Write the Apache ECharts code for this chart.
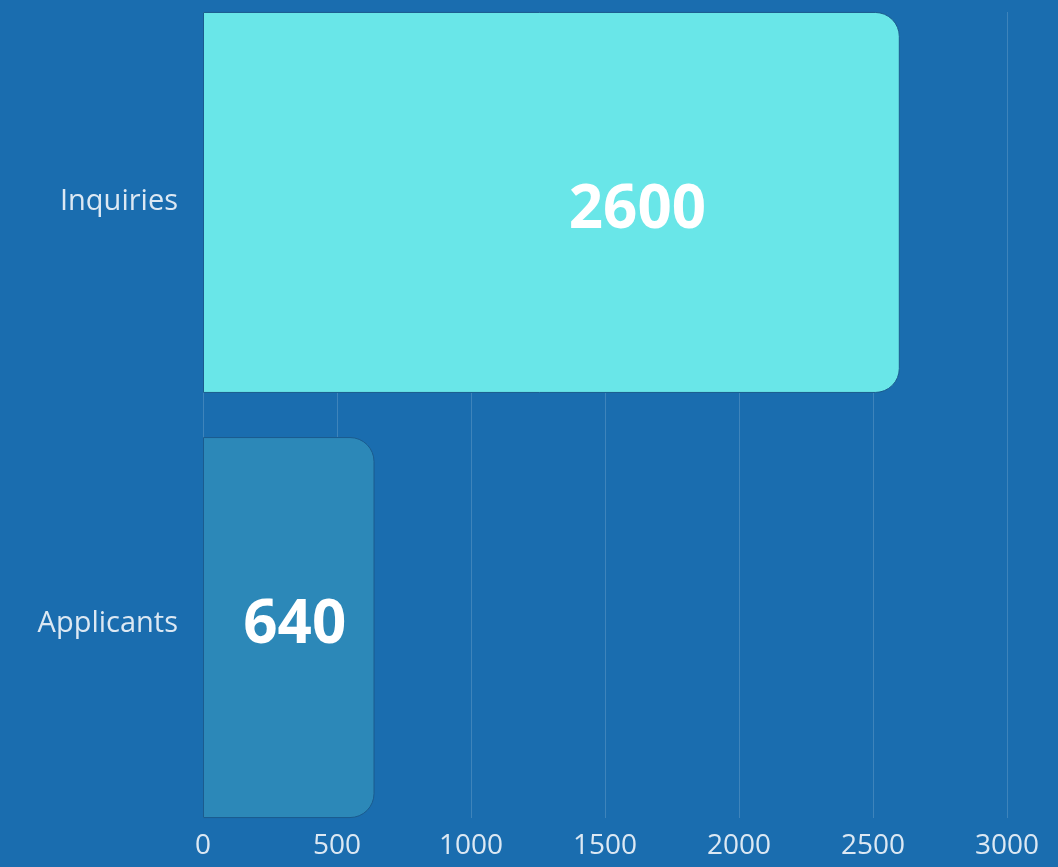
<!DOCTYPE html>
<html>
<head>
<meta charset="utf-8">
<script src="https://cdn.jsdelivr.net/npm/echarts@6/dist/echarts.min.js"></script>
<style>
  html, body { margin: 0; padding: 0; background: #1a6daf; }
  #chart { width: 1058px; height: 867px; }
</style>
</head>
<body>
<div id="chart"></div>
<script>
// categories bottom -> top
const categories = ['Applicants', 'Inquiries'];
const inquiries = ['-', 2600];
const applicants = [640, '-'];
const xTicks = [0, 500, 1000, 1500, 2000, 2500, 3000];

const font = '"Open Sans", "Noto Sans", sans-serif';
const labelColor = '#dce8f3';
const chart = echarts.init(document.getElementById('chart'));

const option = {
  backgroundColor: '#1a6daf',
  animation: false,
  grid: { left: 203, right: 51, top: 12, bottom: 49 },
  xAxis: {
    type: 'value',
    min: xTicks[0],
    max: xTicks[xTicks.length - 1],
    interval: 500,
    axisLine: { show: false },
    axisTick: { show: false },
    splitLine: { lineStyle: { color: 'rgba(255,255,255,0.16)', width: 1 } },
    axisLabel: {
      color: labelColor, fontSize: 28, fontFamily: font, margin: 14,
      formatter: v => String(v)
    }
  },
  yAxis: {
    type: 'category',
    data: categories,
    axisLine: { show: false },
    axisTick: { show: false },
    splitLine: { show: false },
    axisLabel: {
      color: labelColor,
      fontSize: 29,
      fontFamily: font,
      margin: 25,
      formatter: v => v === 'Inquiries' ? '{up|' + v + '}' : '{down|' + v + '}',
      rich: {
        up: { fontSize: 29, fontFamily: font, color: labelColor, padding: [0, 0, 24, 0] },
        down: { fontSize: 29, fontFamily: font, color: labelColor, padding: [14, 0, 0, 0] }
      }
    }
  },
  series: [
    {
      name: 'Inquiries',
      type: 'bar',
      barWidth: 381,
      barGap: '-94.2%',
      data: inquiries,
      itemStyle: {
        color: '#69e6e8',
        borderColor: '#1b5b8e',
        borderWidth: 1,
        borderRadius: [0, 24, 24, 0]
      },
      label: {
        show: true,
        position: 'inside',
        offset: [86, 8],
        color: '#ffffff',
        fontSize: 60,
        fontWeight: 'bold',
        fontFamily: font
      }
    },
    {
      name: 'Applicants',
      type: 'bar',
      barWidth: 381,
      data: applicants,
      itemStyle: {
        color: '#2c88b8',
        borderColor: '#1b5b8e',
        borderWidth: 1,
        borderRadius: [0, 24, 24, 0]
      },
      label: {
        show: true,
        position: 'inside',
        offset: [6, -2],
        color: '#ffffff',
        fontSize: 60,
        fontWeight: 'bold',
        fontFamily: font
      }
    }
  ]
};

chart.setOption(option);
</script>
</body>
</html>
